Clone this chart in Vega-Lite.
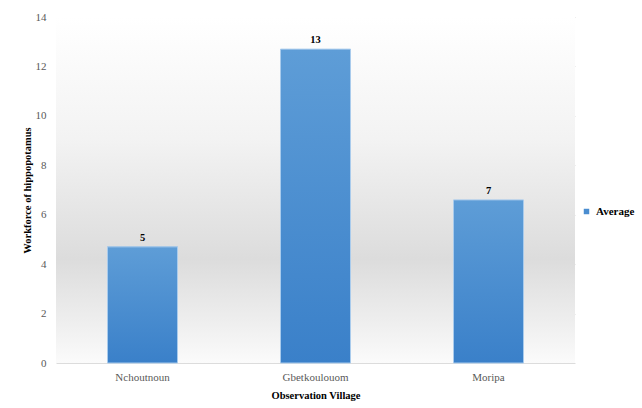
{
  "$schema": "https://vega.github.io/schema/vega-lite/v6.json",
  "width": 519,
  "height": 346,
  "autosize": {"type": "none"},
  "padding": {"left": 56, "top": 17, "right": 67, "bottom": 45},
  "background": "#ffffff",
  "config": {
    "view": {"stroke": null},
    "font": "Liberation Serif"
  },
  "data": {
    "values": [
      {"village": "Nchoutnoun", "workforce": 4.7, "label": "5", "series": "Average"},
      {"village": "Gbetkoulouom", "workforce": 12.7, "label": "13", "series": "Average"},
      {"village": "Moripa", "workforce": 6.6, "label": "7", "series": "Average"}
    ]
  },
  "layer": [
    {
      "data": {"values": [{"bg": 1}]},
      "mark": {
        "type": "rect",
        "fill": {
          "gradient": "linear", "x1": 0, "y1": 0, "x2": 0, "y2": 1,
          "stops": [
            {"offset": 0, "color": "#ffffff"},
            {"offset": 0.35, "color": "#f3f3f3"},
            {"offset": 0.7, "color": "#dcdcdc"},
            {"offset": 0.88, "color": "#eeeeee"},
            {"offset": 1, "color": "#fbfbfb"}
          ]
        }
      },
      "encoding": {}
    },
    {
      "mark": {"type": "bar", "width": 70},
      "encoding": {
        "x": {
          "field": "village", "type": "nominal", "sort": null,
          "scale": {"paddingInner": 0.6, "paddingOuter": 0.3},
          "axis": {
            "title": "Observation Village", "labelAngle": 0, "labelPadding": 8,
            "labelFont": "Liberation Serif", "labelFontSize": 11, "labelColor": "#595959",
            "titleFont": "Liberation Serif", "titleFontSize": 10.5, "titleFontWeight": "bold",
            "titleColor": "#000000", "titlePadding": 8,
            "domain": false, "ticks": false
          }
        },
        "y": {
          "field": "workforce", "type": "quantitative",
          "scale": {"domain": [0, 14]},
          "axis": {
            "title": "Workforce of hippopotamus", "values": [0, 2, 4, 6, 8, 10, 12, 14],
            "labelFont": "Liberation Serif", "labelFontSize": 11, "labelColor": "#595959",
            "labelPadding": 10,
            "titleFont": "Liberation Serif", "titleFontSize": 10.5, "titleFontWeight": "bold",
            "titleColor": "#000000", "titlePadding": 3,
            "domain": false, "ticks": false,
            "gridColor": "#dcdcdc", "gridWidth": 1
          }
        },
        "color": {
          "field": "series", "type": "nominal",
          "scale": {"range": ["#4a8dd0"]},
          "legend": {
            "title": null, "orient": "none", "legendX": 525, "legendY": 189,
            "symbolType": "square", "symbolSize": 30,
            "labelFont": "Liberation Serif", "labelFontSize": 11, "labelFontWeight": "bold",
            "labelColor": "#000000", "labelOffset": 4
          }
        }
      }
    },
    {
      "mark": {
        "type": "bar", "width": 70,
        "stroke": "#a9cbec", "strokeWidth": 1,
        "fill": {
          "gradient": "linear", "x1": 0, "y1": 0, "x2": 0, "y2": 1,
          "stops": [
            {"offset": 0, "color": "#5e9dd7"},
            {"offset": 1, "color": "#3a80c9"}
          ]
        }
      },
      "encoding": {
        "x": {"field": "village", "type": "nominal", "sort": null},
        "y": {"field": "workforce", "type": "quantitative"}
      }
    },
    {
      "mark": {
        "type": "text", "dy": -9, "font": "Liberation Serif",
        "fontSize": 10.5, "fontWeight": "bold", "color": "#000000"
      },
      "encoding": {
        "x": {"field": "village", "type": "nominal", "sort": null},
        "y": {"field": "workforce", "type": "quantitative"},
        "text": {"field": "label"}
      }
    }
  ]
}
